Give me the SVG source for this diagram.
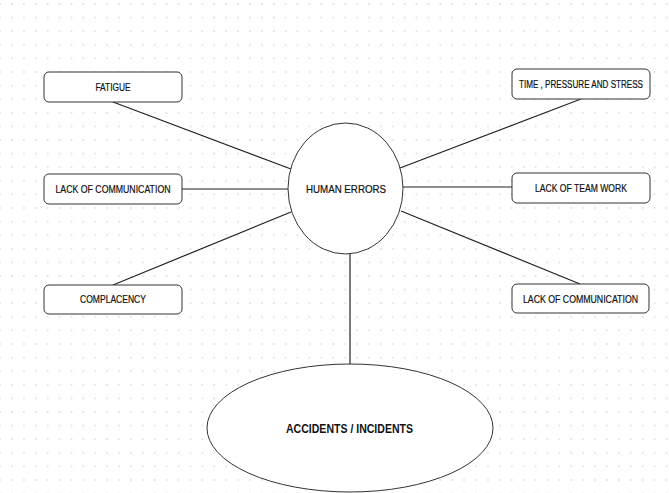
<svg xmlns="http://www.w3.org/2000/svg" width="669" height="493" viewBox="0 0 669 493">
<defs>
<pattern id="dots" x="6" y="-2.8" width="11.9" height="13.6" patternUnits="userSpaceOnUse">
<circle cx="5.95" cy="6.8" r="0.9" fill="#dcdcdc"/>
</pattern>
<style>
.box{fill:#fff;stroke:#333;stroke-width:1}
.ell{fill:#fff;stroke:#333;stroke-width:1}
.lbl{font-family:"Liberation Sans",Arial,sans-serif;font-size:10.5px;fill:#111;text-anchor:middle;stroke:#111;stroke-width:0.2}
.big{font-family:"Liberation Sans",Arial,sans-serif;font-size:13px;font-weight:bold;fill:#111;text-anchor:middle}
.con{stroke:#222;stroke-width:1.2;fill:none}
</style>
</defs>
<rect width="669" height="493" fill="#fff"/>
<rect width="669" height="493" fill="url(#dots)"/>
<g id="connectors">
<line class="con" x1="113" y1="102" x2="291" y2="169"/>
<line class="con" x1="182" y1="189" x2="288" y2="189"/>
<line class="con" x1="113" y1="285" x2="291" y2="212"/>
<line class="con" x1="581" y1="99" x2="400" y2="168"/>
<line class="con" x1="403" y1="187" x2="512" y2="187"/>
<line class="con" x1="580" y1="284" x2="401" y2="211"/>
<line class="con" x1="350" y1="254" x2="350" y2="364"/>
</g>
<g id="fatigue">
<rect class="box" x="44" y="72" width="138" height="30" rx="5"/>
<text class="lbl" x="113" y="91" textLength="35" lengthAdjust="spacingAndGlyphs">FATIGUE</text>
</g>
<g id="lack-comm-left">
<rect class="box" x="44" y="174" width="138" height="30" rx="5"/>
<text class="lbl" x="113" y="193" textLength="115" lengthAdjust="spacingAndGlyphs">LACK OF COMMUNICATION</text>
</g>
<g id="complacency">
<rect class="box" x="44" y="285" width="138" height="29" rx="5"/>
<text class="lbl" x="113" y="303" textLength="66" lengthAdjust="spacingAndGlyphs">COMPLACENCY</text>
</g>
<g id="time-pressure">
<rect class="box" x="512" y="69" width="138" height="30" rx="5"/>
<text class="lbl" x="581" y="87.5" textLength="124" lengthAdjust="spacingAndGlyphs">TIME , PRESSURE AND STRESS</text>
</g>
<g id="team-work">
<rect class="box" x="512" y="173" width="138" height="30" rx="5"/>
<text class="lbl" x="581" y="192" textLength="92" lengthAdjust="spacingAndGlyphs">LACK OF TEAM WORK</text>
</g>
<g id="lack-comm-right">
<rect class="box" x="512" y="284" width="137" height="29" rx="5"/>
<text class="lbl" x="580.5" y="303" textLength="115" lengthAdjust="spacingAndGlyphs">LACK OF COMMUNICATION</text>
</g>
<g id="human-errors">
<ellipse class="ell" cx="345.5" cy="188.5" rx="57.5" ry="65.5"/>
<text class="lbl" x="346" y="193" textLength="80" lengthAdjust="spacingAndGlyphs">HUMAN ERRORS</text>
</g>
<g id="accidents">
<ellipse class="ell" cx="350" cy="428" rx="143" ry="64"/>
<text class="big" x="349.5" y="433" textLength="127" lengthAdjust="spacingAndGlyphs">ACCIDENTS / INCIDENTS</text>
</g>
</svg>
